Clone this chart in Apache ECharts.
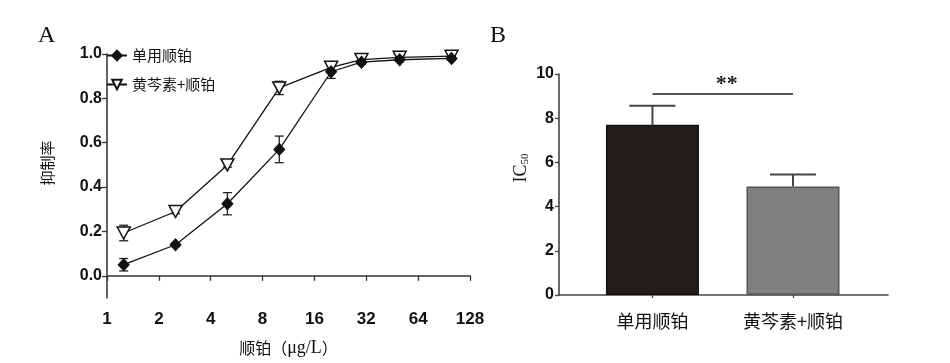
<!DOCTYPE html>
<html>
<head>
<meta charset="utf-8">
<script src="https://cdn.jsdelivr.net/npm/echarts@6/dist/echarts.min.js"></script>
<style>
html,body{margin:0;padding:0;background:#fff;}
#chart{width:950px;height:363px;}
</style>
</head>
<body>
<div id="chart"></div>
<script>
// ---- Panel A data ----
const doses = [1.25, 2.5, 5, 10, 20, 30, 50, 100];
const cisMean = [0.05, 0.14, 0.325, 0.57, 0.92, 0.963, 0.974, 0.98];
const cisSD = [0.028, 0.008, 0.05, 0.06, 0.03, 0.01, 0.008, 0.008];
const comboMean = [0.193, 0.29, 0.5, 0.847, 0.94, 0.975, 0.985, 0.99];
const comboSD = [0.035, 0.01, 0.01, 0.03, 0.012, 0.01, 0.01, 0.01];
const xTicksA = [1, 2, 4, 8, 16, 32, 64, 128];
const yTicksA = [0, 0.2, 0.4, 0.6, 0.8, 1.0];
const seriesNames = ['单用顺铂', '黄芩素+顺铂'];

// ---- Panel B data ----
const groups = ['单用顺铂', '黄芩素+顺铂'];
const groupPos = [1, 2];
const ic50Mean = [7.7, 4.91];
const ic50SD = [0.86, 0.54];
const yTicksB = [0, 2, 4, 6, 8, 10];
const sigLevel = 9.1;
const sigLabel = '**';

const barColors = ['#231d1b', '#808080'];
const barBorders = ['#111', '#555'];
const AX = '#333';
const TXT = '#111';
const CJK = '"Noto Sans CJK SC", "Noto Sans", sans-serif';
const NUM = '"Liberation Sans", Arial, sans-serif';
const SERIF = '"Liberation Serif", "DejaVu Serif", serif';

const chart = echarts.init(document.getElementById('chart'));

function errA(params, api) {
  const x = api.value(0), m = api.value(1), e = api.value(2);
  const t = api.coord([x, m + e]), b = api.coord([x, m - e]);
  const hw = 4.5;
  const st = {stroke: '#222', lineWidth: 1.3};
  return {type: 'group', children: [
    {type: 'line', shape: {x1: t[0], y1: t[1], x2: b[0], y2: b[1]}, style: st},
    {type: 'line', shape: {x1: t[0] - hw, y1: t[1], x2: t[0] + hw, y2: t[1]}, style: st},
    {type: 'line', shape: {x1: b[0] - hw, y1: b[1], x2: b[0] + hw, y2: b[1]}, style: st}
  ]};
}
function errB(params, api) {
  const x = api.value(0), m = api.value(1), e = api.value(2);
  const t = api.coord([x, m + e]), b = api.coord([x, m]);
  const hw = 23;
  const st = {stroke: '#444', lineWidth: 2};
  return {type: 'group', children: [
    {type: 'line', shape: {x1: t[0], y1: t[1], x2: b[0], y2: b[1]}, style: st},
    {type: 'line', shape: {x1: t[0] - hw, y1: t[1], x2: t[0] + hw, y2: t[1]}, style: st}
  ]};
}
function sigRender(params, api) {
  const a = api.coord([api.value(0), api.value(2)]);
  const b = api.coord([api.value(1), api.value(2)]);
  return {type: 'group', children: [
    {type: 'line', shape: {x1: a[0], y1: a[1], x2: b[0], y2: b[1]}, style: {stroke: '#555', lineWidth: 2}},
    {type: 'text', x: (a[0] + b[0]) / 2 + 4, y: a[1] + 1, style: {text: sigLabel, font: 'bold 22px ' + SERIF, fill: '#222', align: 'center', verticalAlign: 'bottom'}}
  ]};
}

const option = {
  animation: false,
  backgroundColor: '#fff',
  grid: [
    {left: 107, right: 480, top: 54, bottom: 65},
    {left: 559, right: 62, top: 74, bottom: 68}
  ],
  legend: {
    data: seriesNames,
    orient: 'vertical',
    left: 106,
    top: 43,
    itemGap: 14,
    itemWidth: 20,
    itemHeight: 12,
    padding: [5, 0, 5, 0],
    textStyle: {fontFamily: CJK, fontSize: 15, color: TXT}
  },
  xAxis: [
    {
      gridIndex: 0, type: 'log', logBase: 2, min: 1, max: 128, interval: 1,
      axisLine: {lineStyle: {color: AX, width: 1.5}},
      axisTick: {show: true, length: 5, lineStyle: {color: AX, width: 1.3}},
      axisLabel: {fontFamily: NUM, fontWeight: 'bold', fontSize: 17, color: TXT, margin: 13,
        formatter: v => String(xTicksA.find(t => Math.abs(t - v) < 1e-6) ?? v)},
      splitLine: {show: false},
      name: '{c|顺铂}{s|（}{m|μg/L}{s|）}', nameLocation: 'middle', nameGap: 41,
      nameTextStyle: {rich: {
        c: {fontFamily: CJK, fontSize: 16, color: TXT},
        s: {fontFamily: CJK, fontSize: 16, color: TXT},
        m: {fontFamily: SERIF, fontSize: 18, color: TXT}
      }}
    },
    {
      gridIndex: 1, type: 'value', min: 0.335, max: 2.676,
      axisLine: {lineStyle: {color: '#444', width: 1.6}},
      axisTick: {show: true, length: 3, customValues: groupPos, lineStyle: {color: '#444', width: 1.3}},
      axisLabel: {customValues: groupPos, fontFamily: CJK, fontSize: 18, color: TXT, margin: 17,
        formatter: v => groups[groupPos.indexOf(Math.round(v))] || ''},
      splitLine: {show: false}
    }
  ],
  yAxis: [
    {
      gridIndex: 0, type: 'value', min: -0.1, max: 1.0,
      axisLine: {show: true, lineStyle: {color: AX, width: 1.5}},
      axisTick: {show: true, length: 5, customValues: yTicksA, lineStyle: {color: AX, width: 1.3}},
      axisLabel: {customValues: yTicksA, fontFamily: NUM, fontWeight: 'bold', fontSize: 16, color: TXT, margin: 5,
        formatter: v => v.toFixed(1)},
      splitLine: {show: false}
    },
    {
      gridIndex: 1, type: 'value', min: 0, max: 10, interval: 2,
      axisLine: {show: true, lineStyle: {color: '#444', width: 1.6}},
      axisTick: {show: true, length: 4, lineStyle: {color: '#444', width: 1.3}},
      axisLabel: {fontFamily: NUM, fontWeight: 'bold', fontSize: 16, color: TXT, margin: 5},
      splitLine: {show: false}
    }
  ],
  graphic: [
    {type: 'text', left: 38, top: 24, style: {text: 'A', font: '24px ' + SERIF, fill: TXT}},
    {type: 'text', left: 490, top: 24, style: {text: 'B', font: '24px ' + SERIF, fill: TXT}},
    {type: 'text', x: 47, y: 163, rotation: Math.PI / 2,
      style: {text: '抑制率', font: '15px ' + CJK, fill: TXT, align: 'center', verticalAlign: 'middle'}},
    {type: 'text', x: 521, y: 168, rotation: Math.PI / 2,
      style: {text: '{a|IC}{b|50}', align: 'center', verticalAlign: 'middle',
        rich: {a: {font: '18px ' + SERIF, fill: TXT, lineHeight: 20},
               b: {font: '11px ' + SERIF, fill: TXT, verticalAlign: 'bottom', lineHeight: 20, padding: [7, 0, 0, 0]}}}}
  ],
  series: [
    {
      type: 'custom', xAxisIndex: 0, yAxisIndex: 0, z: 1, silent: true,
      renderItem: errA, encode: {x: 0, y: 1},
      data: doses.map((d, i) => [d, cisMean[i], cisSD[i]])
    },
    {
      type: 'custom', xAxisIndex: 0, yAxisIndex: 0, z: 1, silent: true,
      renderItem: errA, encode: {x: 0, y: 1},
      data: doses.map((d, i) => [d, comboMean[i], comboSD[i]])
    },
    {
      name: seriesNames[1], type: 'line', xAxisIndex: 0, yAxisIndex: 0, z: 3,
      data: doses.map((d, i) => [d, comboMean[i]]),
      symbol: 'triangle', symbolRotate: 180, symbolSize: [13, 12],
      lineStyle: {color: '#111', width: 1.3},
      itemStyle: {color: '#fff', borderColor: '#111', borderWidth: 1.5}
    },
    {
      name: seriesNames[0], type: 'line', xAxisIndex: 0, yAxisIndex: 0, z: 4,
      data: doses.map((d, i) => [d, cisMean[i]]),
      symbol: 'diamond', symbolSize: [11, 12],
      lineStyle: {color: '#111', width: 1.3},
      itemStyle: {color: '#111', borderColor: '#111', borderWidth: 1}
    },
    {
      type: 'bar', xAxisIndex: 1, yAxisIndex: 1, barWidth: 93, z: 2,
      data: groupPos.map((p, i) => ({value: [p, ic50Mean[i]],
        itemStyle: {color: barColors[i], borderColor: barBorders[i], borderWidth: 1.5}}))
    },
    {
      type: 'custom', xAxisIndex: 1, yAxisIndex: 1, z: 1, silent: true,
      renderItem: errB, encode: {x: 0, y: 1},
      data: groupPos.map((p, i) => [p, ic50Mean[i], ic50SD[i]])
    },
    {
      type: 'custom', xAxisIndex: 1, yAxisIndex: 1, z: 3, silent: true,
      renderItem: sigRender, encode: {x: 0, y: 2},
      data: [[groupPos[0], groupPos[1], sigLevel]]
    }
  ]
};
chart.setOption(option);
</script>
</body>
</html>
